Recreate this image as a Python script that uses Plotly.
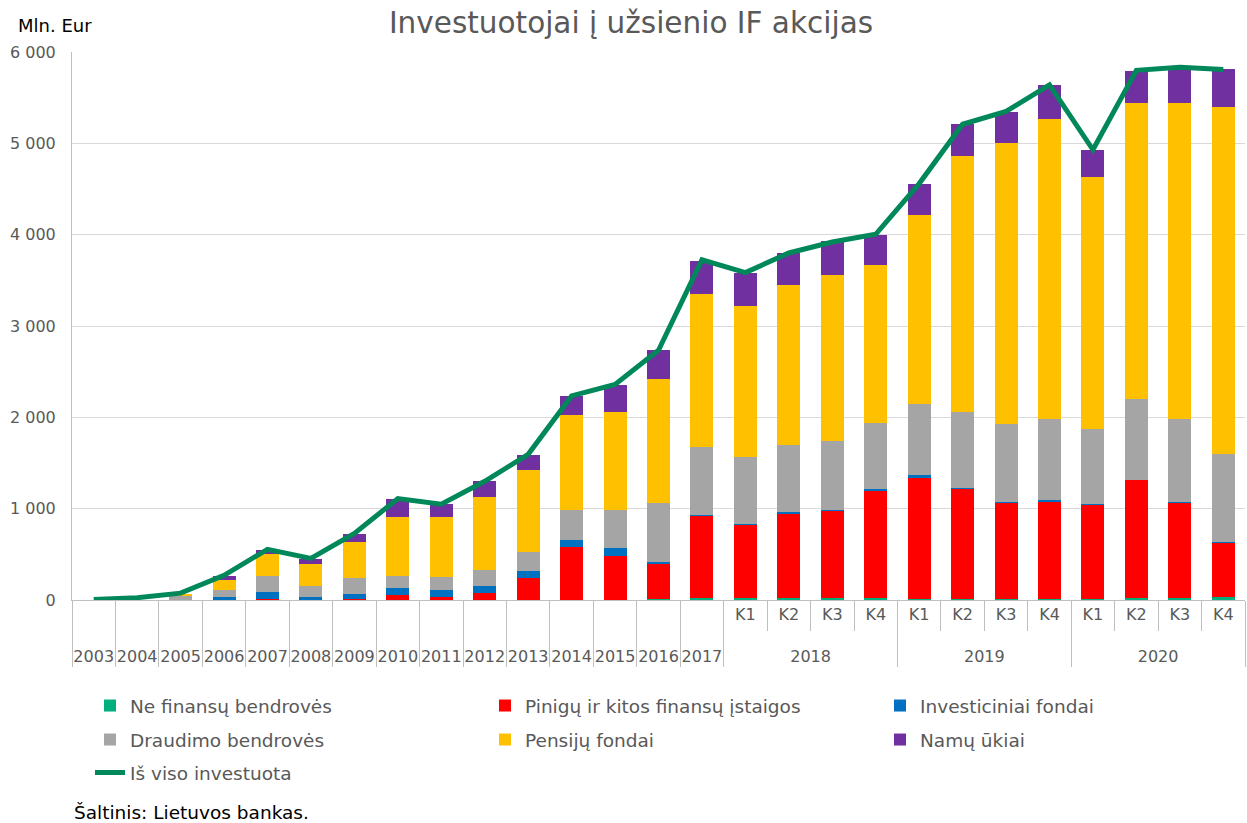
import plotly.graph_objects as go

years_outer = ["2003", "2004", "2005", "2006", "2007", "2008", "2009", "2010", "2011", "2012",
               "2013", "2014", "2015", "2016", "2017"] + ["2018"] * 4 + ["2019"] * 4 + ["2020"] * 4
quarters_inner = [" "] * 15 + ["K1", "K2", "K3", "K4"] * 3

ne_finansu = [0, 0, 0, 0, 0, 0, 0, 0, 0, 0, 0, 0, 5, 10, 18, 18, 18, 18, 18, 10, 10, 10, 10, 10, 22, 25, 30]
pinigu = [0, 0, 0, 5, 15, 5, 10, 55, 36, 73, 244, 576, 478, 390, 905, 806, 930, 966, 1185,
          1336, 1210, 1055, 1072, 1033, 1293, 1040, 599]
investiciniai = [0, 0, 0, 30, 73, 30, 58, 77, 69, 77, 73, 80, 84, 15, 11, 3, 11, 5, 8,
                 18, 8, 5, 18, 3, 3, 3, 3]
draudimo = [0, 0, 40, 80, 171, 117, 175, 135, 146, 182, 204, 332, 416, 649, 737, 744, 740, 751, 722,
            779, 830, 855, 880, 827, 880, 910, 968]
pensiju = [0, 0, 30, 100, 240, 240, 394, 645, 656, 799, 901, 1036, 1076, 1353, 1677, 1652, 1747, 1816, 1736,
           2068, 2805, 3075, 3286, 2754, 3247, 3463, 3801]
namu = [0, 0, 0, 47, 44, 62, 84, 193, 139, 171, 171, 208, 295, 317, 365, 354, 354, 372, 328,
        350, 350, 347, 370, 303, 352, 378, 418]
is_viso = [5, 25, 75, 270, 555, 455, 730, 1110, 1050, 1300, 1595, 2235, 2360, 2735, 3725,
           3585, 3800, 3920, 4005, 4560, 5210, 5350, 5640, 4930, 5800, 5835, 5810]

# inner labels get an invisible second line so the year row sits lower, as in the reference
inner_labels = [q + "<br>\u00a0" for q in quarters_inner]
x = [years_outer, inner_labels]
FONT = "DejaVu Sans"

fig = go.Figure()
series = [
    ("Ne finansų bendrovės", ne_finansu, "#00b07c"),
    ("Pinigų ir kitos finansų įstaigos", pinigu, "#ff0000"),
    ("Investiciniai fondai", investiciniai, "#0070c0"),
    ("Draudimo bendrovės", draudimo, "#a5a5a5"),
    ("Pensijų fondai", pensiju, "#ffc000"),
    ("Namų ūkiai", namu, "#7030a0"),
]
legend_ids = ["legend", "legend2", "legend3", "legend4", "legend5", "legend6", "legend7"]
for i, (name, vals, col) in enumerate(series):
    fig.add_trace(go.Bar(x=x, y=vals, name=name, marker=dict(color=col, line=dict(width=0)),
                         legend=legend_ids[i]))

fig.add_trace(go.Scatter(x=x, y=is_viso, name="Iš viso investuota", mode="lines",
                         line=dict(color="#00875a", width=5), legend="legend7"))

leg_common = dict(orientation="h", xref="container", yref="container", xanchor="left",
                  yanchor="middle",
                  font=dict(family=FONT, size=18.5, color="#595959"),
                  bgcolor="rgba(0,0,0,0)")
col_x = [90, 485, 880]
row_y = [706, 740, 773]
legends = {}
for i, lid in enumerate(legend_ids):
    r, c = divmod(i, 3)
    legends[lid] = dict(x=col_x[c] / 1247, y=1 - row_y[r] / 823, **leg_common)

fig.update_layout(
    width=1247, height=823,
    barmode="stack", bargap=0.47,
    plot_bgcolor="white", paper_bgcolor="white",
    margin=dict(l=72, r=2, t=52, b=223),
    separators=", ",
    font=dict(family=FONT, size=16, color="#595959"),
    title=dict(text="Investuotojai į užsienio IF akcijas", x=0.506, xanchor="center",
               y=0.972, yanchor="middle",
               font=dict(family=FONT, size=29.5, color="#595959")),
    showlegend=True,
    xaxis=dict(type="multicategory", showline=True, linecolor="#bfbfbf", linewidth=1,
               ticks="outside", ticklen=30, tickcolor="#bfbfbf",
               showdividers=True, dividercolor="#bfbfbf", dividerwidth=1,
               tickfont=dict(family=FONT, size=16, color="#595959")),
    yaxis=dict(range=[0, 6001], tickvals=[0, 1000, 2000, 3000, 4000, 5000, 6000],
               tickformat=",.0f", showgrid=True, gridcolor="#d9d9d9", gridwidth=1,
               showline=True, linecolor="#bfbfbf", zeroline=False,
               tickfont=dict(family=FONT, size=16, color="#595959"), ticklabelstandoff=12),
    annotations=[
        dict(text="Mln. Eur", xref="paper", yref="paper", x=-72 / 1173 + 16 / 1173, y=1 + 27 / 548,
             xanchor="left", yanchor="middle", showarrow=False,
             font=dict(family=FONT, size=18, color="#000000")),
        dict(text="Šaltinis: Lietuvos bankas.", xref="paper", yref="paper", x=0.0,
             y=-(812 - 600) / 548, xanchor="left", yanchor="middle", showarrow=False,
             font=dict(family=FONT, size=18.5, color="#000000")),
    ],
    **legends,
)

fig.write_html("out.html")
